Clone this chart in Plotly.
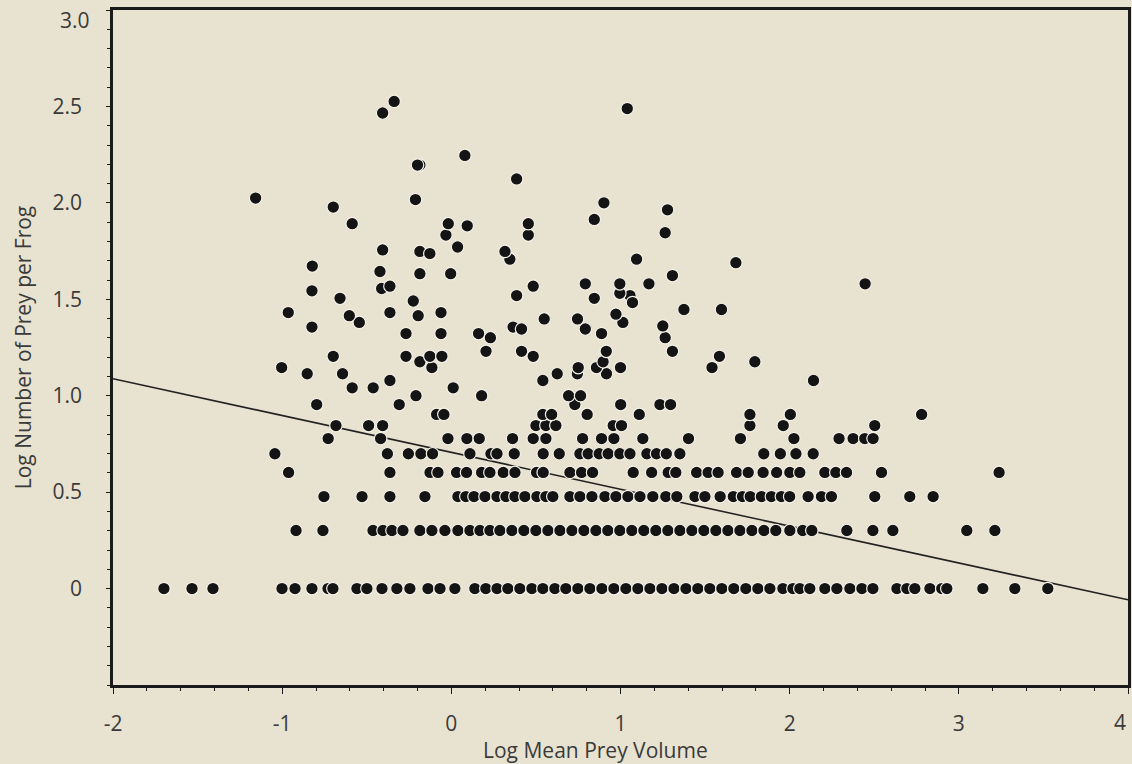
import plotly.graph_objects as go

# ---- data: discrete rows (y = log10 of small prey counts) ----
row_levels = [0.0, 0.301, 0.477, 0.602, 0.699, 0.778, 0.845, 0.903, 0.954, 1.0]

row_0 = [-1.699, -1.533, -1.409, -1.001, -0.924, -0.824, -0.729, -0.700, -0.558, -0.499,
         -0.410, -0.322, -0.245, -0.138, -0.067, 0.021, 0.139, 0.204, 0.270, 0.334,
         0.405, 0.476, 0.541, 0.612, 0.677, 0.748, 0.819, 0.890, 0.961, 1.032,
         1.103, 1.174, 1.245, 1.316, 1.387, 1.457, 1.528, 1.599, 1.670, 1.741,
         1.812, 1.883, 1.960, 2.019, 2.060, 2.119, 2.208, 2.279, 2.356, 2.427,
         2.492, 2.634, 2.693, 2.740, 2.829, 2.899, 2.929, 3.142, 3.331, 3.526]
row_1 = [-0.918, -0.759, -0.463, -0.404, -0.351, -0.286, -0.186, -0.115, -0.038, 0.039,
         0.110, 0.169, 0.228, 0.287, 0.358, 0.429, 0.500, 0.571, 0.642, 0.713,
         0.784, 0.855, 0.925, 0.996, 1.067, 1.138, 1.209, 1.280, 1.351, 1.422,
         1.493, 1.564, 1.635, 1.706, 1.777, 1.848, 1.918, 2.001, 2.077, 2.131,
         2.338, 2.492, 2.610, 3.047, 3.213]
row_2 = [-0.753, -0.528, -0.363, -0.156, 0.039, 0.086, 0.134, 0.199, 0.270, 0.323,
         0.376, 0.435, 0.506, 0.559, 0.600, 0.701, 0.760, 0.831, 0.908, 0.973,
         1.044, 1.115, 1.191, 1.268, 1.333, 1.440, 1.499, 1.589, 1.667, 1.721,
         1.767, 1.833, 1.892, 1.951, 2.000, 2.109, 2.188, 2.247, 2.503, 2.710, 2.848]
row_3 = [-0.962, -0.363, -0.126, -0.079, 0.031, 0.090, 0.179, 0.228, 0.307, 0.376,
         0.504, 0.543, 0.701, 0.770, 0.835, 1.075, 1.184, 1.282, 1.327, 1.450,
         1.518, 1.577, 1.686, 1.755, 1.843, 1.923, 2.001, 2.060, 2.208, 2.273,
         2.336, 2.543, 3.238]
row_4 = [-1.043, -0.378, -0.254, -0.180, -0.111, 0.110, 0.234, 0.270, 0.372, 0.543,
         0.638, 0.760, 0.809, 0.874, 0.927, 0.996, 1.056, 1.156, 1.213, 1.271,
         1.351, 1.847, 1.945, 2.037, 2.139]
row_5 = [-0.728, -0.418, -0.020, 0.092, 0.165, 0.362, 0.484, 0.559, 0.776, 0.888,
         0.961, 1.132, 1.402, 1.709, 2.025, 2.292, 2.375, 2.444, 2.493]
row_6 = [-0.682, -0.489, -0.406, 0.500, 0.559, 0.618, 0.957, 1.006, 1.765, 1.962, 2.503]
row_7 = [-0.087, -0.044, 0.541, 0.593, 0.803, 1.111, 1.765, 2.004, 2.780]
row_8 = [-0.796, -0.308, 0.730, 1.001, 1.233, 1.296]
row_9 = [-0.209, 0.179, 0.693, 0.764]
row_x_lists = [row_0, row_1, row_2, row_3, row_4, row_5, row_6, row_7, row_8, row_9]

# ---- data: scattered upper points ----
upper_x = [-0.586, -0.462, 0.011, -0.363, 0.541, 2.141, -0.852, -0.643, 0.626, 0.917,
           0.745, -1.003, -0.115, 0.750, 0.858, 1.000, 1.541, -0.186, 0.897, 1.794,
           -0.698, -0.268, -0.127, -0.056, 0.484, 1.585, 0.205, 0.415, 0.916, 1.307,
           0.231, 1.264, -0.268, -0.061, 0.161, 0.888, -0.824, 0.365, 0.415, 0.792,
           1.250, 0.549, 0.746, -0.544, 1.014, -0.964, -0.603, -0.363, -0.196, -0.061,
           0.973, 1.375, 1.597, -0.225, -0.658, 0.386, 0.845, 1.056, 1.071, 0.996,
           -0.824, -0.412, -0.363, 0.484, 0.792, 0.996, 1.168, 2.446, -0.822, -0.422,
           -0.186, -0.004, 1.307, 1.682, 1.095, 0.346, -0.406, -0.186, -0.127, 0.317,
           0.037, -0.032, 0.455, 1.264, -0.018, 0.094, 0.455, -0.586, 0.845, 1.278,
           -0.698, 0.902, -0.212, -1.157, 0.386, -0.186, -0.200, 0.080, -0.406, -0.338,
           1.040]
upper_y = [1.041, 1.041, 1.041, 1.079, 1.079, 1.079, 1.114, 1.114, 1.114, 1.114,
           1.114, 1.146, 1.146, 1.146, 1.146, 1.146, 1.146, 1.176, 1.176, 1.176,
           1.204, 1.204, 1.204, 1.204, 1.204, 1.204, 1.230, 1.230, 1.230, 1.230,
           1.301, 1.301, 1.322, 1.322, 1.322, 1.322, 1.356, 1.356, 1.346, 1.346,
           1.362, 1.398, 1.398, 1.380, 1.380, 1.431, 1.415, 1.431, 1.415, 1.431,
           1.423, 1.447, 1.447, 1.491, 1.505, 1.519, 1.505, 1.519, 1.483, 1.531,
           1.544, 1.556, 1.568, 1.568, 1.580, 1.580, 1.580, 1.580, 1.672, 1.644,
           1.633, 1.633, 1.623, 1.690, 1.708, 1.708, 1.756, 1.748, 1.737, 1.748,
           1.771, 1.833, 1.833, 1.845, 1.892, 1.881, 1.892, 1.892, 1.914, 1.964,
           1.978, 2.000, 2.017, 2.025, 2.124, 2.196, 2.196, 2.246, 2.466, 2.526,
           2.489]

# regression fit
fit_intercept = 0.706
fit_slope = -0.191
fit_x_range = [-2, 4]

# tick labels (the two end labels are nudged inward in the source, drawn as annotations)
x_tick_vals = [-2, -1, 0, 1, 2, 3, 4]
x_tick_text = ["-2", "-1", "0", "1", "2", "3", ""]
x_end_label = "4"
y_tick_vals = [0, 0.5, 1.0, 1.5, 2.0, 2.5, 3.0]
y_tick_text = ["0", "0.5", "1.0", "1.5", "2.0", "2.5", ""]
y_end_label = "3.0"
x_title = "Log Mean Prey Volume"
y_title = "Log Number of Prey per Frog"

# ---- build ----
all_x, all_y = [], []
for lvl, xs in zip(row_levels, row_x_lists):
    all_x += xs
    all_y += [lvl] * len(xs)
all_x += upper_x
all_y += upper_y

BG = "#e8e2d0"
INK = "#1a1a1a"
TXT = "#3a3a3a"

fig = go.Figure()
fig.add_trace(go.Scatter(
    x=fit_x_range,
    y=[fit_intercept + fit_slope * v for v in fit_x_range],
    mode="lines", line=dict(color="#222222", width=1.6),
    hoverinfo="skip", showlegend=False, cliponaxis=True))
fig.add_trace(go.Scatter(
    x=all_x, y=all_y, mode="markers",
    marker=dict(size=12.5, color="#141414", line=dict(color="#f4f1e8", width=1.2)),
    showlegend=False, cliponaxis=False))

font = dict(family="Open Sans, sans-serif", size=21, color=TXT)
fig.update_layout(
    width=1132, height=764,
    margin=dict(l=113, r=4, t=10, b=79, autoexpand=False),
    paper_bgcolor=BG, plot_bgcolor=BG,
    font=font,
)
fig.update_xaxes(
    range=[-2, 4], tickvals=x_tick_vals, ticktext=x_tick_text,
    showgrid=False, zeroline=False, automargin=False,
    showline=True, linecolor=INK, linewidth=2.5, mirror=True,
    ticks="outside", ticklen=6, tickwidth=1, tickcolor=INK,
    ticklabelstandoff=12,
    minor=dict(dtick=0.2, ticks="outside", ticklen=3, tickcolor=INK, tickwidth=1),
    tickfont=dict(size=21),
)
fig.update_yaxes(
    range=[-0.5, 3.0], tickvals=y_tick_vals, ticktext=y_tick_text,
    showgrid=False, zeroline=False, automargin=False,
    showline=True, linecolor=INK, linewidth=2.5, mirror=True,
    ticks="outside", ticklen=4, tickwidth=1, tickcolor=INK,
    ticklabelstandoff=20,
    minor=dict(dtick=0.1, ticks="outside", ticklen=3, tickcolor=INK, tickwidth=1),
    title=dict(text=y_title, standoff=16, font=dict(size=21)),
    tickfont=dict(size=21),
)
# end tick labels, nudged inside the page as in the source
fig.add_annotation(text=y_end_label, xref="paper", yref="paper",
                   x=0, y=1, xanchor="right", yanchor="middle",
                   xshift=-21, yshift=-10, showarrow=False,
                   font=dict(size=21, color=TXT))
fig.add_annotation(text=x_end_label, xref="paper", yref="paper",
                   x=1, y=0, xanchor="right", yanchor="middle",
                   xshift=0, yshift=-37, showarrow=False,
                   font=dict(size=21, color=TXT))
# x-axis title placed slightly left of the plot centre, as in the source
fig.add_annotation(text=x_title, xref="paper", yref="paper",
                   x=0.475, y=-0.096, xanchor="center", yanchor="middle",
                   showarrow=False, font=dict(size=21, color=TXT))

fig.write_html("out.html")
